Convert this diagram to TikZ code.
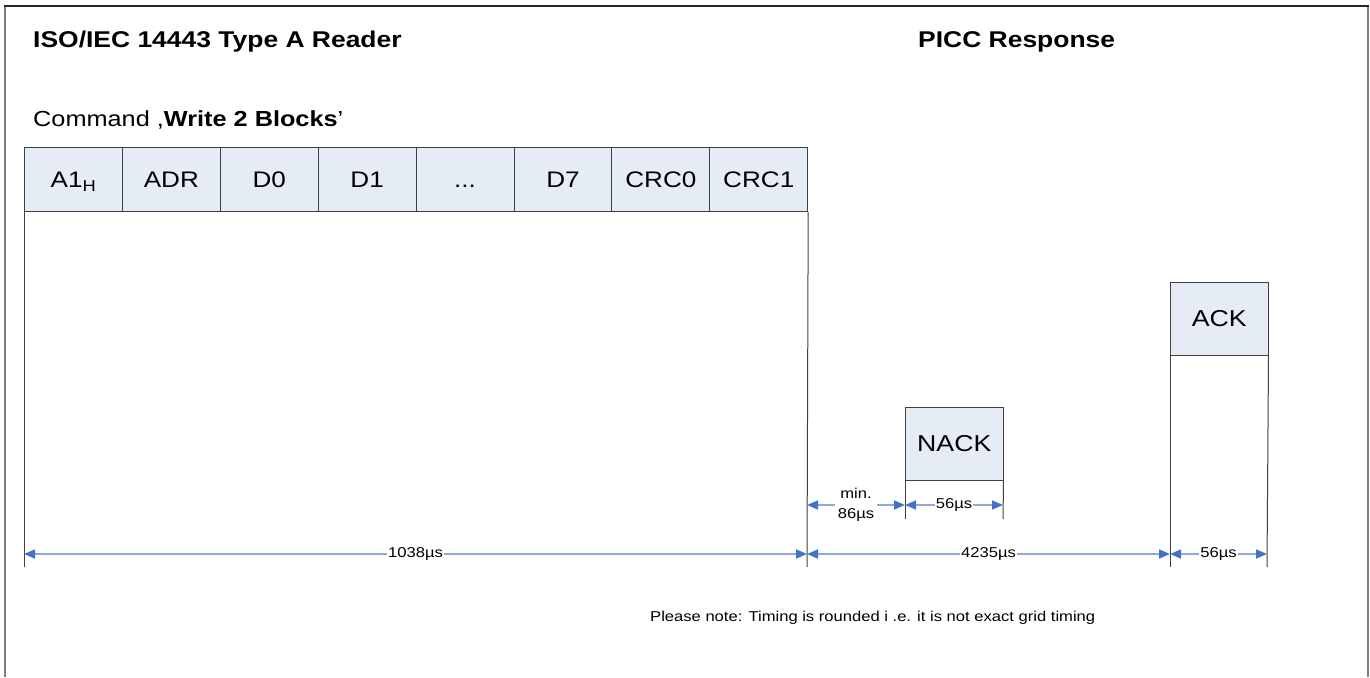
\documentclass[tikz,border=0pt]{standalone}
\usepackage{fontspec}
\setmainfont{Liberation Sans}[FakeStretch=1.16]
\usetikzlibrary{arrows.meta}
\definecolor{cellfill}{HTML}{E6ECF6}
\definecolor{dimline}{HTML}{8EAADB}
\definecolor{dimtip}{HTML}{4472C4}
\definecolor{frameg}{HTML}{808080}
\definecolor{boxline}{HTML}{404040}
\tikzset{
  cell/.style={draw=boxline, line width=1pt, fill=cellfill, minimum width=97.9pt, minimum height=64pt, inner sep=0pt, anchor=north west, text height=16pt, text depth=0pt, font=\fontsize{22.5}{25}\selectfont},
  respbox/.style={draw=boxline, line width=1pt, fill=cellfill, minimum width=97.5pt, minimum height=73pt, inner sep=0pt, anchor=north west, font=\fontsize{23}{26}\selectfont},
  ext/.style={draw=boxline, line width=1pt},
  dimarrow/.style={draw=dimline, line width=1.6pt, {Triangle[length=11pt,width=9pt,fill=dimtip,color=dimtip]}-{Triangle[length=11pt,width=9pt,fill=dimtip,color=dimtip]}},
  dimlabel/.style={fill=white, inner sep=1pt, font=\fontsize{14.3}{16}\selectfont, align=center},
  title/.style={anchor=base west, inner sep=0pt, font=\fontsize{22.8}{25}\selectfont\bfseries},
}
\begin{document}
\begin{tikzpicture}[x=1pt,y=-1pt]
\useasboundingbox (0,0) rectangle (1370,677);
% frame
\draw[frameg, line width=2pt] (5,677) -- (5,6);
\draw[frameg, line width=2pt] (1368,6) -- (1368,677);
\draw[black!85, line width=1.4pt] (4,6) -- (1369,6);
% titles
\node[title] (t1) at (33,48) {ISO/IEC 14443 Type A Reader};
\node[title] (t2) at (918,48) {PICC Response};
\node[anchor=base west, inner sep=0pt, font=\fontsize{21.8}{24}\selectfont] (cmd) at (33,126) {Command ,\textbf{Write 2 Blocks}’};
% command cells
\node[cell] (c1) at (24,147) {A1\textsubscript{H}};
\node[cell] (c2) at (121.9,147) {ADR};
\node[cell] (c3) at (219.8,147) {D0};
\node[cell] (c4) at (317.7,147) {D1};
\node[cell] (c5) at (415.6,147) {.\kern0pt.\kern0pt.};
\node[cell] (c6) at (513.5,147) {D7};
\node[cell] (c7) at (611.4,147) {CRC0};
\node[cell] (c8) at (709.3,147) {CRC1};
% response boxes
\node[respbox] (nack) at (905,407) {NACK};
\node[respbox] (ack) at (1170,282) {ACK};
% extension line end points
\coordinate (e1) at (24,567);
\coordinate (e2) at (807,567);
\coordinate (e3) at (905,519);
\coordinate (e4) at (1003,519);
\coordinate (e5) at (1170,567);
\coordinate (e6) at (1267,567);
\draw[ext] (c1.south west) -- (e1);
\draw[ext] (c8.south east) -- (e2);
\draw[ext] (nack.south west) -- (e3);
\draw[ext] (nack.south east) -- (e4);
\draw[ext] (ack.south west) -- (e5);
\draw[ext] (ack.south east) -- (e6);
% dimension arrows
\coordinate (d1) at (24,554);
\coordinate (d2) at (807,554);
\coordinate (d3) at (1170,554);
\coordinate (d4) at (1267,554);
\coordinate (m1) at (807,505);
\coordinate (m2) at (905,505);
\coordinate (m3) at (1003,505);
\draw[dimarrow] (d1) -- node[dimlabel] (l1) {1038µs} (d2);
\draw[dimarrow] (d2) -- node[dimlabel] (l2) {4235µs} (d3);
\draw[dimarrow] (d3) -- node[dimlabel] (l3) {56µs} (d4);
\draw[dimarrow] (m1) -- node[dimlabel, inner xsep=3pt, font=\fontsize{14.3}{20}\selectfont] (l4) {min.\\86µs} (m2);
\draw[dimarrow] (m2) -- node[dimlabel] (l5) {56µs} (m3);
% note
\node[anchor=base west, inner sep=0pt, font=\fontsize{14.3}{16}\selectfont] (note) at (650,621) {Please note: Timing is rounded i .e. it is not exact grid timing};
\end{tikzpicture}
\end{document}
